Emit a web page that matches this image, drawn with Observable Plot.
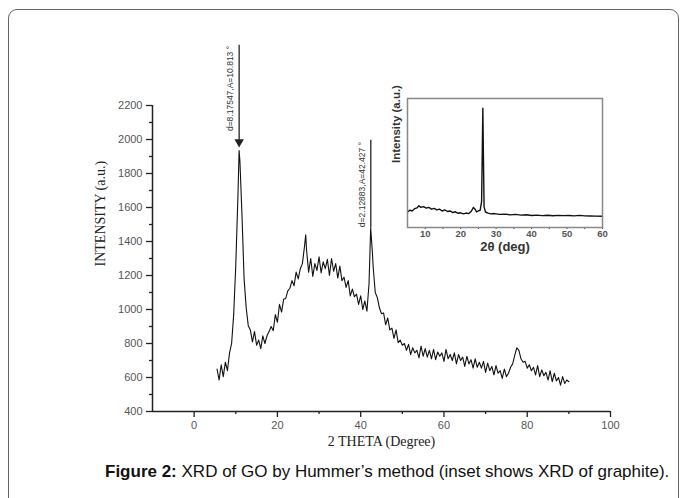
<!DOCTYPE html>
<html>
<head>
<meta charset="utf-8">
<script src="https://cdn.jsdelivr.net/npm/d3@7"></script>
<script src="https://cdn.jsdelivr.net/npm/@observablehq/plot@0.6"></script>
<style>
  html, body { margin: 0; padding: 0; background: #fff; }
  #page { position: relative; width: 683px; height: 498px; overflow: hidden; }
  #frame { position: absolute; left: 8px; top: 9px; width: 671px; height: 520px; border: 1px solid #666; border-radius: 9px; box-sizing: border-box; }
  #main { position: absolute; left: 0; top: 0; }
  #inset { position: absolute; left: 380px; top: 80px; }
  #caption { position: absolute; left: 105px; top: 463px; font-family: "Liberation Sans", Arial, sans-serif; font-size: 17px; line-height: 18px; color: #111; white-space: nowrap; }
</style>
</head>
<body>
<div id="page">
  <div id="frame"></div>
  <div id="main"></div>
  <div id="inset"></div>
  <div id="caption"><b>Figure 2:</b> XRD of GO by Hummer’s method (inset shows XRD of graphite).</div>
</div>
<script>
// Main XRD pattern of GO (2θ in degrees, intensity in a.u.)
const theta = [
  5.5,6,6.5,7,7.5,8,8.5,9,9.5,10,10.5,10.8,11,11.5,12,12.5,13,13.5,14,14.5,
  15,15.5,16,16.5,17,17.5,18,18.5,19,19.5,20,20.5,21,21.5,22,22.5,23,23.5,24,24.5,
  25,25.5,26,26.5,26.8,27,27.5,28,28.5,29,29.5,30,30.5,31,31.5,32,32.5,33,33.5,34,
  34.5,35,35.5,36,36.5,37,37.5,38,38.5,39,39.5,40,40.5,41,41.5,42,42.4,42.8,43,43.5,
  44,44.5,45,45.5,46,46.5,47,47.5,48,48.5,49,49.5,50,50.5,51,51.5,52,52.5,53,53.5,
  54,54.5,55,55.5,56,56.5,57,57.5,58,58.5,59,59.5,60,60.5,61,61.5,62,62.5,63,63.5,
  64,64.5,65,65.5,66,66.5,67,67.5,68,68.5,69,69.5,70,70.5,71,71.5,72,72.5,73,73.5,
  74,74.5,75,75.5,76,76.5,77,77.5,78,78.5,79,79.5,80,80.5,81,81.5,82,82.5,83,83.5,
  84,84.5,85,85.5,86,86.5,87,87.5,88,88.5,89,89.5,90
];
const intensity = [
  650,585,675,605,690,640,745,800,970,1260,1650,1935,1870,1550,1180,1010,905,880,810,870,
  790,820,770,845,800,845,870,900,875,970,925,1030,985,1060,1065,1110,1125,1170,1140,1220,
  1180,1240,1270,1370,1440,1350,1220,1300,1195,1270,1230,1310,1215,1280,1240,1295,1200,1300,1225,1270,
  1185,1255,1170,1190,1130,1170,1080,1120,1075,1090,1030,1080,1000,1050,990,1150,1480,1340,1250,1100,
  1070,1010,975,980,910,950,880,890,830,880,805,820,790,800,760,795,735,775,745,760,
  715,785,725,770,720,760,710,765,705,750,725,745,695,765,710,735,700,745,680,735,
  700,720,665,725,680,705,655,710,660,690,655,695,630,685,640,665,615,670,625,640,
  595,650,605,625,660,680,730,775,760,710,690,695,655,675,640,660,615,670,605,645,
  610,630,585,640,575,625,580,600,555,605,565,585,575
];

// Peak annotations
const peakTheta = [10.813, 42.427];
const peakLabel = ["d=8.17547,A=10.813 °", "d=2.12883,A=42.427 °"];
const peakTop = [2555, 1995];
const peakBottom = [1985, 1480];
const peakLabelY = [2300, 1735];

// Axis ticks
const xMajor = [0, 20, 40, 60, 80, 100];
const xMinor = [10, 30, 50, 70, 90];
const yMajor = [400, 600, 800, 1000, 1200, 1400, 1600, 1800, 2000, 2200];
const yMinor = [500, 700, 900, 1100, 1300, 1500, 1700, 1900, 2100];

// Inset: XRD of graphite (2θ in degrees, relative intensity)
const insetTheta = [
  5,5.7,6.3,7,7.7,8.2,8.8,9.5,10.3,11,11.8,12.5,13.3,14,14.8,15.5,16.3,17,17.8,18.5,
  19.3,20,20.8,21.5,22.3,23,23.6,24,24.5,25,25.5,25.9,26.1,26.25,26.4,26.6,27,27.7,28.5,29.5,
  31,32.5,34,35.5,37,38.5,40,41.5,43,44.5,46,47.5,49,50.5,52,53.5,55,56.5,58,60
];
const insetValue = [
  12,13.5,12.8,14.6,15.2,16.8,15.6,16.2,15,15.6,14.2,14.8,13.6,14.2,12.8,13.6,12.4,12.8,11.6,12.2,
  11,11.4,10.6,11.2,10.8,12.6,15.6,14.4,12,13,13.4,20,60,92.5,58,16,12,11.2,10.6,10.8,
  10.2,10.4,9.8,10.2,9.6,9.9,9.3,9.6,9.2,9.5,9.1,9.4,9.2,9.3,9,9.4,9,8.9,8.8,8.7
];
const insetTicks = [10, 20, 30, 40, 50, 60];
const insetMinor = [15, 25, 35, 45, 55];

const mainData = theta.map((t, i) => ({theta: t, intensity: intensity[i]}));
const peaks = peakTheta.map((t, i) => ({theta: t, label: peakLabel[i], top: peakTop[i], bottom: peakBottom[i], ly: peakLabelY[i]}));
const insetData = insetTheta.map((t, i) => ({theta: t, value: insetValue[i]}));

const sans = "'Liberation Sans', Arial, Helvetica, sans-serif";
const serif = "'Liberation Serif', 'Times New Roman', Times, serif";

const main = Plot.plot({
  width: 683,
  height: 460,
  marginLeft: 152,
  marginRight: 73,
  marginTop: 105,
  marginBottom: 49,
  style: {fontFamily: sans, fontSize: "11px", color: "#222", background: "transparent", overflow: "visible"},
  x: {domain: [-10, 100]},
  y: {domain: [400, 2200]},
  marks: [
    Plot.axisX({ticks: xMajor, tickSize: 6, tickPadding: 4, tickFormat: "d", fill: "#555", label: null, strokeWidth: 1.3}),
    Plot.axisX({ticks: xMinor, tickSize: 3, tickFormat: () => "", label: null, strokeWidth: 1.3}),
    Plot.axisY({ticks: yMajor, tickSize: 6, tickPadding: 4, tickFormat: "d", fill: "#555", label: null, strokeWidth: 1.3}),
    Plot.axisY({ticks: yMinor, tickSize: 3, tickFormat: () => "", label: null, strokeWidth: 1.3}),
    Plot.ruleX([-10], {stroke: "#222", strokeWidth: 1.5}),
    Plot.ruleY([400], {stroke: "#222", strokeWidth: 1.5}),
    Plot.line(mainData, {x: "theta", y: "intensity", stroke: "#111", strokeWidth: 1.1}),
    Plot.ruleX(peaks, {x: "theta", y1: "top", y2: "bottom", stroke: "#333", strokeWidth: 1.4}),
    Plot.dot(peaks.slice(0, 1), {x: "theta", y: "bottom", symbol: "triangle2", r: 4.5, fill: "#222", stroke: null, rotate: 180}),
    Plot.text(peaks, {x: "theta", y: "ly", text: "label", rotate: -90, dx: -9, fontSize: 8.5, fill: "#333"}),
    Plot.text(["2 THETA (Degree)"], {frameAnchor: "bottom", dy: 34, fontFamily: serif, fontSize: 14, fill: "#222"}),
    Plot.text(["INTENSITY (a.u.)"], {frameAnchor: "left", dx: -52, dy: 8, rotate: -90, fontFamily: serif, fontSize: 14, fill: "#222"})
  ]
});
document.getElementById("main").append(main);

const inset = Plot.plot({
  width: 230,
  height: 185,
  marginLeft: 27,
  marginRight: 8,
  marginTop: 18,
  marginBottom: 38,
  style: {fontFamily: sans, fontSize: "9.5px", color: "#333", background: "transparent", overflow: "visible"},
  x: {domain: [5, 60]},
  y: {domain: [0, 100], axis: null},
  marks: [
    Plot.axisX({ticks: insetTicks, tickSize: 2, tickPadding: 1, fill: "#555", fontWeight: "bold", label: null}),
    Plot.axisX({ticks: insetMinor, tickSize: 2, tickFormat: () => "", label: null}),
    Plot.line(insetData, {x: "theta", y: "value", stroke: "#111", strokeWidth: 1.4}),
    Plot.frame({stroke: "#888", strokeWidth: 1.5}),
    Plot.text(["2θ (deg)"], {frameAnchor: "bottom", dy: 23, fontSize: 13, fontWeight: "bold", fill: "#333"}),
    Plot.text(["Intensity (a.u.)"], {frameAnchor: "left", dx: -11, rotate: -90, fontSize: 11.5, fontWeight: "bold", fill: "#333"})
  ]
});
document.getElementById("inset").append(inset);
</script>
</body>
</html>
